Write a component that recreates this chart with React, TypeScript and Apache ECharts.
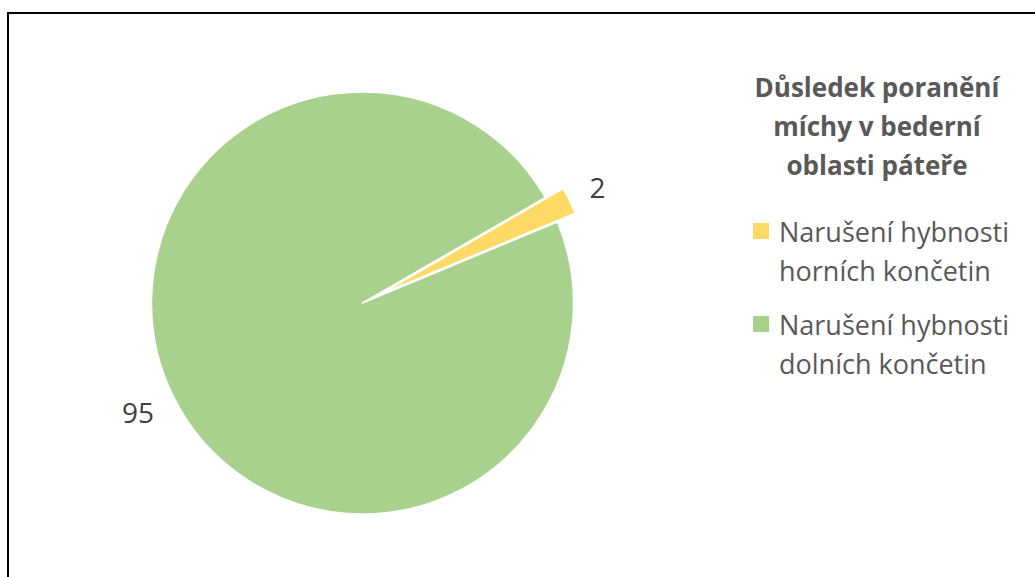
import React, { useEffect, useRef } from "react";
import * as echarts from "echarts";

const titleLines = ["Důsledek poranění", "míchy v bederní", "oblasti páteře"];
const categories = ["Narušení hybnosti\nhorních končetin", "Narušení hybnosti\ndolních končetin"];
const values = [2, 95];
const colors = ["#FFD966", "#A9D18E"];
const labelLineLengths = [30, 35];
const labelDistances = [-7, -12];

export default function App() {
  const ref = useRef<HTMLDivElement>(null);
  useEffect(() => {
    if (!ref.current) return;
    const chart = echarts.init(ref.current, null, { renderer: "svg" });
    const font = "'Open Sans', sans-serif";
    chart.setOption({
      animation: false,
      backgroundColor: "#ffffff",
      title: {
        text: titleLines.join("\n"),
        left: 877,
        top: 67.5,
        padding: 0,
        textAlign: "center",
        textStyle: {
          fontFamily: font,
          fontSize: 26,
          fontWeight: "bold",
          color: "#595959",
          lineHeight: 39,
          align: "center",
        },
      },
      legend: {
        orient: "vertical",
        left: 751,
        top: 172.5,
        padding: 0,
        itemWidth: 18,
        itemHeight: 18,
        itemGap: -24,
        icon: "rect",
        selectedMode: false,
        data: categories,
        formatter: (name: string) => "\n" + name,
        textStyle: {
          fontFamily: font,
          fontSize: 27,
          color: "#595959",
          lineHeight: 39,
          padding: [0, 0, 0, 4],
        },
      },
      graphic: [
        {
          type: "rect",
          shape: { x: 8, y: 13, width: 1200, height: 800 },
          style: { fill: "none", stroke: "#000000", lineWidth: 2 },
          silent: true,
        },
      ],
      series: [
        {
          type: "pie",
          center: [362.5, 303],
          radius: 211,
          startAngle: 30,
          clockwise: true,
          selectedMode: "single",
          selectedOffset: 20,
          avoidLabelOverlap: false,
          emphasis: { disabled: true },
          itemStyle: { borderColor: "#ffffff", borderWidth: 1.5 },
          label: {
            show: true,
            position: "outside",
            formatter: "{c}",
            fontFamily: font,
            fontSize: 28,
            color: "#404040",
          },
          labelLine: { show: false, length: 35, length2: 0 },
          data: values.map((v, i) => ({
            value: v,
            name: categories[i],
            selected: i === 0,
            itemStyle: { color: colors[i] },
            label: { distanceToLabelLine: labelDistances[i] },
            labelLine: { show: false, length: labelLineLengths[i], length2: 0 },
          })),
        },
      ],
    });
    return () => chart.dispose();
  }, []);
  return (
    <div
      ref={ref}
      style={{ position: "absolute", left: 0, top: 0, width: 1035, height: 577 }}
    />
  );
}
